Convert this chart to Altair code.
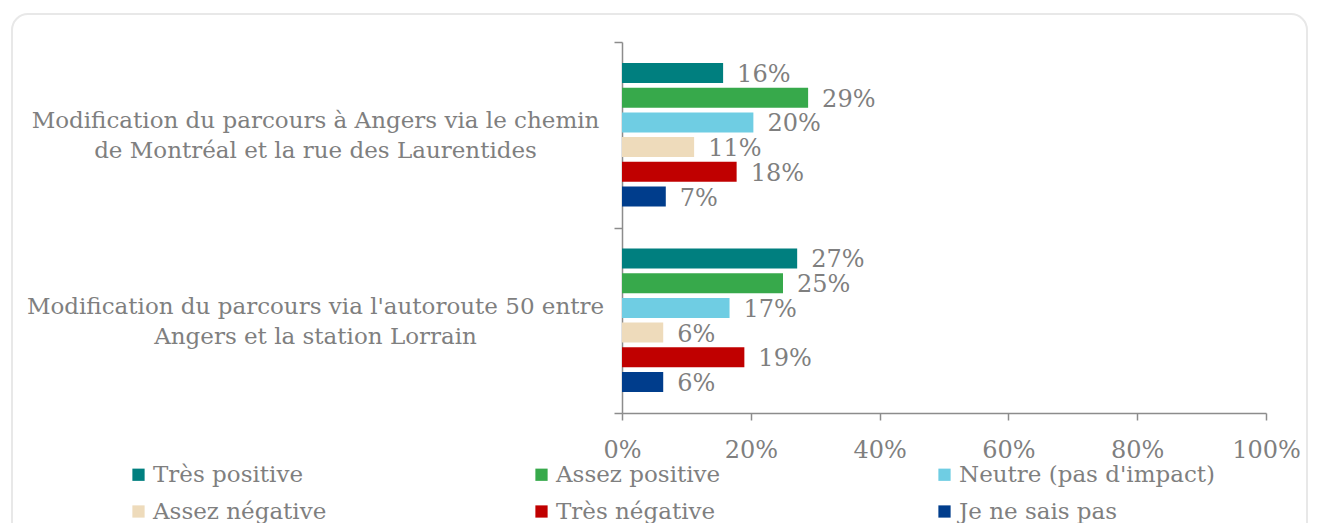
import altair as alt
import pandas as pd

categories = [
    "Modification du parcours à Angers via le chemin|de Montréal et la rue des Laurentides",
    "Modification du parcours via l'autoroute 50 entre|Angers et la station Lorrain",
]
series = ["Très positive", "Assez positive", "Neutre (pas d'impact)",
          "Assez négative", "Très négative", "Je ne sais pas"]
colors = ["#007F7F", "#37A94B", "#6FCDE3", "#EEDBBB", "#C00000", "#003D8C"]
values_angers = [0.157, 0.289, 0.204, 0.112, 0.178, 0.068]
values_a50 = [0.272, 0.250, 0.167, 0.064, 0.190, 0.064]
x_ticks = [0, 0.2, 0.4, 0.6, 0.8, 1.0]

rows = []
for cat, vals in zip(categories, [values_angers, values_a50]):
    for s, v in zip(series, vals):
        rows.append({"cat": cat, "series": s, "value": v})
df = pd.DataFrame(rows)

GRAY = "#7f7f7f"
AXIS = "#8c8c8c"
FONT = "DejaVu Serif"

y = alt.Y(
    "cat:N", sort=categories, title=None,
    scale=alt.Scale(paddingInner=0, paddingOuter=0),
    axis=alt.Axis(
        labelExpr="split(datum.label, '|')", labelAlign="center", labelBaseline="middle",
        labelPadding=299, labelFontSize=23, labelColor=GRAY, labelLineHeight=30,
        labelOffset=-14, labelLimit=900, labelFont=FONT, tickBand="extent", tickSize=8,
        tickColor=AXIS, domainColor=AXIS, tickWidth=1.5, domainWidth=1.5,
    ),
)
yoff = alt.YOffset("series:N", sort=series,
                   scale=alt.Scale(paddingInner=0.19, paddingOuter=0.85))
x = alt.X(
    "value:Q", title=None, scale=alt.Scale(domain=[0, 1]),
    axis=alt.Axis(values=x_ticks, format=".0%", grid=False, tickSize=7,
                  tickColor=AXIS, domainColor=AXIS, tickWidth=1.5, domainWidth=1.5,
                  labelFontSize=24, labelColor=GRAY, labelFont=FONT, labelPadding=18,
                  labelFlush=False),
)
color = alt.Color(
    "series:N", sort=series, scale=alt.Scale(domain=series, range=colors),
    legend=alt.Legend(
        title=None, orient="none", legendX=-495, legendY=421, columns=3,
        direction="horizontal", symbolType="square", symbolSize=150,
        symbolStrokeWidth=0, labelFontSize=23, labelColor=GRAY, labelFont=FONT,
        labelLimit=600, gridAlign="all", columnPadding=121, rowPadding=13,
        labelOffset=3,
    ),
)

frame = alt.Chart(pd.DataFrame({"frame": [0]})).mark_rect(
    fillOpacity=0, stroke="#e8e8e8", strokeWidth=2, cornerRadius=16
).encode(x=alt.value(-610), x2=alt.value(685), y=alt.value(-28), y2=alt.value(540))

bars = alt.Chart(df).mark_bar().encode(y=y, yOffset=yoff, x=x, color=color)

labels = alt.Chart(df).mark_text(
    align="left", baseline="middle", dx=14, dy=2, fontSize=24, color=GRAY, font=FONT
).encode(y=y, yOffset=yoff, x=x, text=alt.Text("value:Q", format=".0%"))

chart = alt.layer(frame, bars, labels).properties(
    width=644, height=371,
    padding={"left": 614, "top": 34, "right": 43, "bottom": 110},
    autosize=alt.AutoSizeParams(type="none"),
).configure(font=FONT).configure_view(strokeWidth=0)

chart.save("out.html", embed_options={"renderer": "svg", "actions": False})
